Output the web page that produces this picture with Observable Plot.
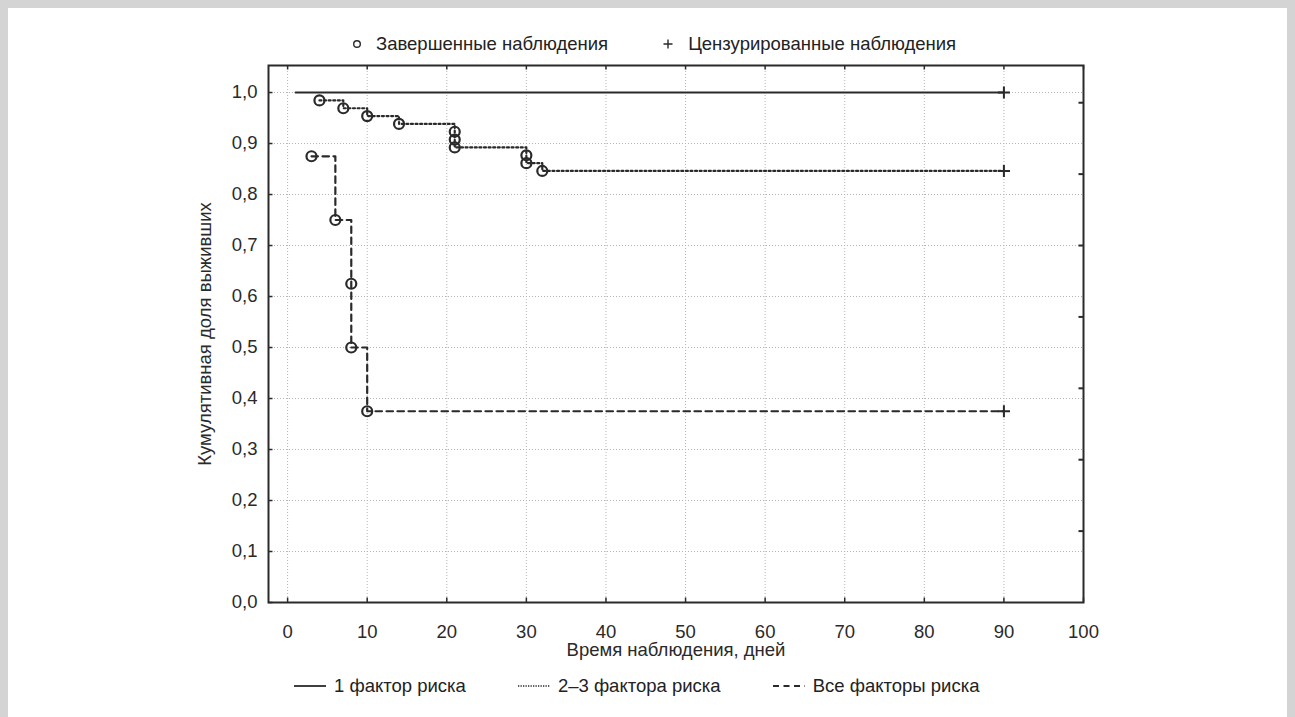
<!DOCTYPE html>
<html><head><meta charset="utf-8">
<script src="https://cdn.jsdelivr.net/npm/d3@7"></script>
<script src="https://cdn.jsdelivr.net/npm/@observablehq/plot@0.6"></script>
<style>
html,body{margin:0;padding:0;background:#fff;}
#page{position:relative;width:1295px;height:717px;overflow:hidden;font-family:"Liberation Sans",Arial,sans-serif;color:#222;background:#fff;}
#border{position:absolute;left:0;top:0;width:1295px;height:717px;box-sizing:border-box;border-top:8px solid #d4d4d4;border-left:8px solid #d4d4d4;border-right:8px solid #d4d4d4;pointer-events:none;}
#chart{position:absolute;left:0;top:50px;}
.legend{position:absolute;display:flex;align-items:center;font-size:18.5px;white-space:nowrap;line-height:1;}
.legend .item{display:flex;align-items:center;}
.legend svg{display:block;}
</style></head>
<body><div id="page"><div id="border"></div>
<div id="topLegend" class="legend" style="left:351px;top:35px;gap:54px;"></div>
<div id="chart"></div>
<div id="bottomLegend" class="legend" style="left:294px;top:677px;gap:52px;"></div>
</div>
<script>
// ---- data ----
const xTicks = [0, 10, 20, 30, 40, 50, 60, 70, 80, 90, 100];
const yTicks = [0.0, 0.1, 0.2, 0.3, 0.4, 0.5, 0.6, 0.7, 0.8, 0.9, 1.0];
const rightTicks = [0.14, 0.28, 0.42, 0.56, 0.70, 0.84, 0.98];
const seriesNames = ["1 фактор риска", "2–3 фактора риска", "Все факторы риска"];
const markerNames = ["Завершенные наблюдения", "Цензурированные наблюдения"];
const xLabel = "Время наблюдения, дней";
const yLabel = "Кумулятивная доля выживших";

const s1Time = [1, 90];
const s1Surv = [1.0, 1.0];
const s1Kind = ["start", "censored"];

const s2Time = [4, 7, 10, 14, 21, 21, 21, 30, 30, 32, 90];
const s2Surv = [0.9846, 0.9692, 0.9538, 0.9385, 0.9231, 0.9077, 0.8923, 0.8769, 0.8615, 0.8462, 0.8462];
const s2Kind = ["event", "event", "event", "event", "event", "event", "event", "event", "event", "event", "censored"];

const s3Time = [3, 6, 8, 8, 10, 90];
const s3Surv = [0.875, 0.75, 0.625, 0.5, 0.375, 0.375];
const s3Kind = ["event", "event", "event", "event", "event", "censored"];

// ---- build table ----
const rows = [];
[[s1Time, s1Surv, s1Kind], [s2Time, s2Surv, s2Kind], [s3Time, s3Surv, s3Kind]].forEach(([t, s, k], i) => {
  t.forEach((v, j) => rows.push({series: seriesNames[i], time: v, surv: s[j], kind: k[j]}));
});

const dashes = {
  [seriesNames[0]]: null,
  [seriesNames[1]]: "2,2.6",
  [seriesNames[2]]: "6.5,4.5"
};
const ink = "#2a2a2a";
const fontFamily = '"Liberation Sans", Arial, sans-serif';
const fs = 18.5;

const W = 1295, H = 620, mL = 268, mR = 212, mT = 15, mB = 68;
const xDomain = [-2.4, 100], yDomain = [0, 1.053];
const ux = (xDomain[1] - xDomain[0]) / (W - mL - mR);
const uy = (yDomain[1] - yDomain[0]) / (H - mT - mB);
const tl = 4.5;
const fmtY = d => d.toFixed(1).replace(".", ",");

const chart = Plot.plot({
  width: W, height: H,
  marginLeft: mL, marginRight: mR, marginTop: mT, marginBottom: mB,
  x: {domain: xDomain},
  y: {domain: yDomain},
  style: {fontFamily, fontSize: fs + "px", color: ink, background: "transparent", overflow: "visible"},
  marks: [
    Plot.ruleX(xTicks.filter(d => d < 100), {x: d => d, stroke: "#b4b4b4", strokeWidth: 1, strokeDasharray: "1,2"}),
    Plot.ruleY(yTicks.filter(d => d > 0), {y: d => d, stroke: "#b4b4b4", strokeWidth: 1, strokeDasharray: "1,2"}),
    ...seriesNames.map(n => Plot.line(rows.filter(r => r.series === n), {
      x: "time", y: "surv", curve: "step-after", stroke: ink, strokeWidth: n === seriesNames[0] ? 2 : 2.2,
      strokeDasharray: dashes[n]
    })),
    Plot.dot(rows.filter(r => r.kind === "event"), {x: "time", y: "surv", r: 5, stroke: ink, strokeWidth: 2.2, fill: "none"}),
    Plot.dot(rows.filter(r => r.kind === "censored"), {x: "time", y: "surv", r: 4, symbol: "plus", stroke: ink, strokeWidth: 2}),
    Plot.frame({stroke: ink, strokeWidth: 2}),
    // inward ticks
    Plot.ruleX(xTicks, {x: d => d, y1: yDomain[0], y2: yDomain[0] + tl * uy, stroke: ink, strokeWidth: 1.5}),
    Plot.ruleX(xTicks, {x: d => d, y1: yDomain[1], y2: yDomain[1] - tl * uy, stroke: ink, strokeWidth: 1.5}),
    Plot.ruleY(yTicks, {y: d => d, x1: xDomain[0], x2: xDomain[0] + tl * ux, stroke: ink, strokeWidth: 1.5}),
    Plot.ruleY(rightTicks, {y: d => d, x1: xDomain[1], x2: xDomain[1] - tl * ux, stroke: ink, strokeWidth: 2}),
    Plot.axisX(xTicks, {tickSize: 0, tickPadding: 22, fontSize: fs, label: null, tickFormat: d => String(d)}),
    Plot.axisY(yTicks, {tickSize: 0, tickPadding: 11, fontSize: fs, label: null, tickFormat: fmtY}),
    Plot.text([xLabel], {frameAnchor: "bottom", dy: 48, lineAnchor: "middle", textAnchor: "middle", fontSize: fs, fill: ink}),
    Plot.text([yLabel], {frameAnchor: "left", dx: -63, rotate: -90, lineAnchor: "middle", textAnchor: "middle", fontSize: fs, fill: ink})
  ]
});
document.getElementById("chart").appendChild(chart);

// ---- legends ----
const topLeg = document.getElementById("topLegend");
topLeg.innerHTML =
  `<div class="item"><svg width="12" height="12"><circle cx="6" cy="6" r="3.3" fill="none" stroke="${ink}" stroke-width="1.4"/></svg><span style="margin-left:13px">${markerNames[0]}</span></div>` +
  `<div class="item"><svg width="12" height="12"><path d="M6,1.5V10.5M1.5,6H10.5" stroke="${ink}" stroke-width="1.4"/></svg><span style="margin-left:14px">${markerNames[1]}</span></div>`;

const bottomLeg = document.getElementById("bottomLegend");
bottomLeg.innerHTML = seriesNames.map(n =>
  `<div class="item"><svg width="32" height="10"><line x1="0" x2="32" y1="5" y2="5" stroke="${ink}" stroke-width="${n === seriesNames[1] ? 1.3 : 1.8}" ${dashes[n] ? `stroke-dasharray="${n === seriesNames[1] ? '1.3,1.2' : '6,4.5'}"` : ""}/></svg><span style="margin-left:8px">${n}</span></div>`
).join("");
</script>
</body></html>
